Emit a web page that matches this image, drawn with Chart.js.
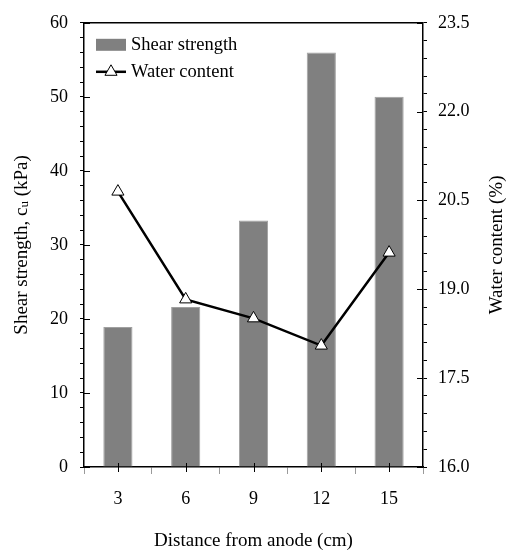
<!DOCTYPE html>
<html>
<head>
<meta charset="utf-8">
<script src="https://cdn.jsdelivr.net/npm/chart.js@4"></script>
<style>
  html, body { margin: 0; padding: 0; background: #fff; }
</style>
</head>
<body>
<canvas id="chart" width="512" height="552"></canvas>
<script>
// ── Data ─────────────────────────────────────────────
const distances = ["3", "6", "9", "12", "15"];
const shearStrength = [18.9, 21.6, 33.3, 56.0, 50.0];
const waterContent = [20.65, 18.83, 18.51, 18.05, 19.62];
const shearTicks = [0, 10, 20, 30, 40, 50, 60];
const waterTicks = [16.0, 17.5, 19.0, 20.5, 22.0, 23.5];

const FONT = "'Liberation Serif', 'Times New Roman', serif";
const TITLE_FONT = "19px " + FONT;
Chart.defaults.font.family = FONT;
Chart.defaults.color = "#000";

const isMajor = (v, list) => list.some((t) => Math.abs(t - v) < 1e-6);

// ── Extras: frame, crossing ticks, legend, axis titles ──
const extras = {
  id: "extras",
  afterDraw(chart) {
    const { ctx, chartArea: a, scales } = chart;
    ctx.save();
    ctx.strokeStyle = "#000";

    // top frame line
    ctx.lineWidth = 1.5;
    ctx.beginPath();
    ctx.moveTo(a.left, a.top);
    ctx.lineTo(a.right, a.top);
    ctx.stroke();

    // inward parts of major ticks
    ctx.lineWidth = 1;
    ctx.beginPath();
    shearTicks.forEach((v) => {
      const py = Math.round(scales.y.getPixelForValue(v)) + 0.5;
      ctx.moveTo(a.left, py);
      ctx.lineTo(a.left + 6, py);
    });
    waterTicks.forEach((v) => {
      const py = Math.round(scales.y1.getPixelForValue(v)) + 0.5;
      ctx.moveTo(a.right, py);
      ctx.lineTo(a.right - 6, py);
    });
    distances.forEach((_, i) => {
      const px = Math.round(scales.x.getPixelForValue(i)) + 0.5;
      ctx.moveTo(px, a.bottom - 4);
      ctx.lineTo(px, a.bottom + 5);
    });
    ctx.stroke();

    // legend
    const ds = chart.data.datasets;
    ctx.font = "18.5px " + FONT;
    ctx.textBaseline = "middle";
    ctx.textAlign = "left";
    const lx = a.left + 12, ly = a.top + 22;
    ctx.fillStyle = ds[0].backgroundColor;
    ctx.fillRect(lx, ly - 6, 30, 12);
    ctx.fillStyle = "#000";
    ctx.fillText(ds[0].label, lx + 35, ly);
    const ly2 = ly + 27;
    ctx.lineWidth = 2.5;
    ctx.beginPath();
    ctx.moveTo(lx, ly2);
    ctx.lineTo(lx + 30, ly2);
    ctx.stroke();
    const r = 7, cx = lx + 15;
    ctx.lineWidth = 1;
    ctx.beginPath();
    ctx.moveTo(cx, ly2 - r);
    ctx.lineTo(cx + r * Math.sin(2 * Math.PI / 3), ly2 + r / 2);
    ctx.lineTo(cx - r * Math.sin(2 * Math.PI / 3), ly2 + r / 2);
    ctx.closePath();
    ctx.fillStyle = "#fff";
    ctx.fill();
    ctx.stroke();
    ctx.fillStyle = "#000";
    ctx.fillText(ds[1].label, lx + 35, ly2);

    // x title
    ctx.font = TITLE_FONT;
    ctx.textAlign = "center";
    ctx.fillText("Distance from anode (cm)", (a.left + a.right) / 2, 541);

    // left title with subscript
    const midY = (a.top + a.bottom) / 2;
    const p1 = "Shear strength, c", sub = "u", p3 = " (kPa)";
    ctx.font = TITLE_FONT;
    const w1 = ctx.measureText(p1).width, w3 = ctx.measureText(p3).width;
    ctx.font = "13px " + FONT;
    const w2 = ctx.measureText(sub).width;
    ctx.save();
    ctx.translate(22, midY);
    ctx.rotate(-Math.PI / 2);
    ctx.textAlign = "left";
    const sx = -(w1 + w2 + w3) / 2;
    ctx.font = TITLE_FONT;
    ctx.fillText(p1, sx, 0);
    ctx.font = "13px " + FONT;
    ctx.fillText(sub, sx + w1, 3);
    ctx.font = TITLE_FONT;
    ctx.fillText(p3, sx + w1 + w2, 0);
    ctx.restore();

    // right title
    ctx.save();
    ctx.font = TITLE_FONT;
    ctx.translate(497, midY);
    ctx.rotate(-Math.PI / 2);
    ctx.textAlign = "center";
    ctx.fillText("Water content (%)", 0, 0);
    ctx.restore();

    ctx.restore();
  },
};

new Chart(document.getElementById("chart"), {
  data: {
    labels: distances,
    datasets: [
      {
        type: "bar",
        label: "Shear strength",
        data: shearStrength,
        yAxisID: "y",
        backgroundColor: "#808080",
        borderColor: "#a0a0a0",
        borderWidth: 1,
        categoryPercentage: 1,
        barPercentage: 0.43,
        order: 1,
      },
      {
        type: "line",
        label: "Water content",
        data: waterContent,
        yAxisID: "y1",
        borderColor: "#000",
        borderWidth: 2.5,
        tension: 0,
        pointStyle: "triangle",
        pointRadius: 7,
        pointBackgroundColor: "#fff",
        pointBorderColor: "#000",
        pointBorderWidth: 1,
        order: 0,
      },
    ],
  },
  options: {
    responsive: false,
    animation: false,
    devicePixelRatio: 1,
    layout: { padding: { top: 14, left: 0, right: 0, bottom: 0 } },
    plugins: { legend: { display: false }, tooltip: { enabled: false } },
    scales: {
      x: {
        type: "category",
        offset: true,
        grid: { offset: true, drawOnChartArea: false, tickLength: 7, color: "#9a9a9a" },
        border: { display: true, color: "#000", width: 1.5 },
        ticks: { font: { size: 18 }, color: "#000", padding: 14, maxRotation: 0 },
        afterFit: (s) => { s.height = 85; },
      },
      y: {
        position: "left",
        min: 0,
        max: 60,
        grid: { drawOnChartArea: false, tickLength: 4, color: "#000" },
        border: { display: true, color: "#000", width: 1.5 },
        ticks: {
          stepSize: 2,
          autoSkip: false,
          padding: 12,
          font: { size: 18 },
          color: "#000",
          callback: (v) => (isMajor(v, shearTicks) ? String(v) : ""),
        },
        afterFit: (s) => { s.width = 84; },
      },
      y1: {
        position: "right",
        min: 16,
        max: 23.5,
        grid: { drawOnChartArea: false, tickLength: 4, color: "#000" },
        border: { display: true, color: "#000", width: 1.5 },
        ticks: {
          stepSize: 0.3,
          autoSkip: false,
          padding: 11,
          font: { size: 18 },
          color: "#000",
          callback: (v) => (isMajor(v, waterTicks) ? v.toFixed(1) : ""),
        },
        afterFit: (s) => { s.width = 89; },
      },
    },
  },
  plugins: [extras],
});
</script>
</body>
</html>
